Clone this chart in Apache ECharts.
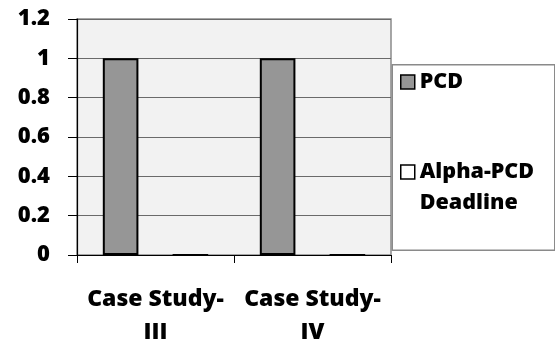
<!DOCTYPE html>
<html>
<head>
<meta charset="utf-8">
<script src="https://cdn.jsdelivr.net/npm/echarts@6/dist/echarts.min.js"></script>
<style>
  html, body { margin: 0; padding: 0; background: #ffffff; }
  #chart { width: 555px; height: 345px; }
</style>
</head>
<body>
<div id="chart"></div>
<script>
// Categories and series values
const categories = ['Case Study-\nIII', 'Case Study-\nIV'];
const pcdValues = [1, 1];
const alphaDeadlineValues = [0, 0];
const seriesNames = ['PCD', 'Alpha-PCD Deadline'];
const yTicks = { min: 0, max: 1.2, step: 0.2 };

const FONT = 'Open Sans';
const WEIGHT = 800;
const chart = echarts.init(document.getElementById('chart'), null, { renderer: 'canvas' });

chart.setOption({
  animation: false,
  backgroundColor: '#ffffff',
  grid: {
    left: 77, right: 164, top: 19, bottom: 90,
    outerBoundsMode: 'none',
    containLabel: false,
    show: true,
    backgroundColor: '#f2f2f2',
    borderColor: '#8a8a8a',
    borderWidth: 1.5
  },
  graphic: [{
    type: 'rect',
    left: 391.5, top: 64,
    shape: { width: 162.5, height: 185.5 },
    style: { fill: '#ffffff', stroke: '#8a8a8a', lineWidth: 1.5 },
    z: -1
  }],
  legend: [{
    orient: 'vertical',
    left: 400, top: 71,
    padding: 0,
    itemWidth: 14, itemHeight: 14, itemGap: 0,
    icon: 'rect',
    selectedMode: false,
    textStyle: { fontFamily: FONT, fontWeight: WEIGHT, fontSize: 21.5, color: '#000' },
    data: [{ name: seriesNames[0], itemStyle: { borderColor: '#000', borderWidth: 1.5 } }]
  }, {
    // two-line label; the blank leading line keeps "Alpha-PCD" level with the swatch
    orient: 'vertical',
    left: 400, top: 125.5,
    padding: 0,
    itemWidth: 14, itemHeight: 14, itemGap: 0,
    icon: 'rect',
    selectedMode: false,
    formatter: function () { return ' \nAlpha-PCD\nDeadline'; },
    textStyle: {
      fontFamily: FONT, fontWeight: WEIGHT, fontSize: 21.5, color: '#000',
      lineHeight: 31
    },
    data: [{ name: seriesNames[1], itemStyle: { borderColor: '#000', borderWidth: 1.5 } }]
  }],
  xAxis: {
    type: 'category',
    data: categories,
    axisLine: { show: true, lineStyle: { color: '#000', width: 1.2 } },
    axisTick: { show: true, length: 8, lineStyle: { color: '#000', width: 1 } },
    axisLabel: {
      fontFamily: FONT, fontWeight: WEIGHT, fontSize: 23, color: '#000',
      lineHeight: 33, margin: 27.5, interval: 0
    },
    splitLine: { show: false }
  },
  yAxis: {
    type: 'value',
    min: yTicks.min, max: yTicks.max, interval: yTicks.step,
    axisLine: { show: true, lineStyle: { color: '#000', width: 1.2 } },
    axisTick: { show: true, length: 9, lineStyle: { color: '#000', width: 1 } },
    axisLabel: {
      fontFamily: FONT, fontWeight: WEIGHT, fontSize: 22, color: '#000', margin: 27
    },
    splitLine: { show: true, lineStyle: { color: '#6a6a6a', width: 1 } }
  },
  series: [{
    name: seriesNames[0],
    type: 'bar',
    data: pcdValues,
    barWidth: 35.6,
    barGap: '96%',
    itemStyle: { color: '#969696', borderColor: '#000', borderWidth: 2 }
  }, {
    name: seriesNames[1],
    type: 'bar',
    data: alphaDeadlineValues,
    barWidth: 35.6,
    itemStyle: { color: '#ffffff', borderColor: '#000', borderWidth: 2 }
  }]
});
</script>
</body>
</html>
